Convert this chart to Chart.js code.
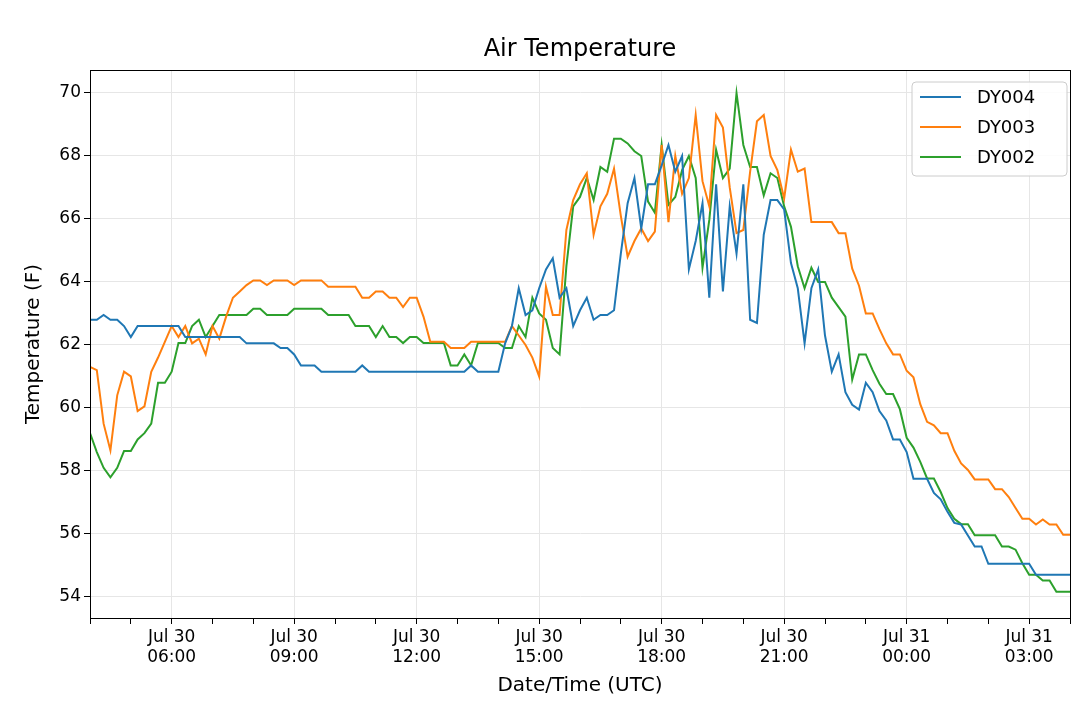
<!DOCTYPE html>
<html>
<head>
<meta charset="utf-8">
<script src="https://cdn.jsdelivr.net/npm/chart.js@4"></script>
<style>
  html, body { margin: 0; padding: 0; background: #fff; }
  #wrap { width: 1080px; height: 716px; }
</style>
</head>
<body>
<div id="wrap"><canvas id="c"></canvas></div>
<script>
// hours since Jul 30 00:00, one reading every 10 minutes from 04:00
const startHour = 4;
const stepHour = 1 / 6;
const seriesNames = ["DY004", "DY003", "DY002"];
const seriesColors = ["#1f77b4", "#ff7f0e", "#2ca02c"];
const yTicks = [54, 56, 58, 60, 62, 64, 66, 68, 70];

const dy004 = [
  62.8,62.8,62.95,62.8,62.8,62.6, 62.25,62.6,62.6,62.6,62.6,62.6,
  62.6,62.6,62.25,62.25,62.25,62.25, 62.25,62.25,62.25,62.25,62.25,62.05,
  62.05,62.05,62.05,62.05,61.9,61.9, 61.7,61.35,61.35,61.35,61.15,61.15,
  61.15,61.15,61.15,61.15,61.35,61.15, 61.15,61.15,61.15,61.15,61.15,61.15,
  61.15,61.15,61.15,61.15,61.15,61.15, 61.15,61.15,61.35,61.15,61.15,61.15,
  61.15,62.05,62.6,63.8,62.95,63.1, 63.8,64.4,64.75,63.5,63.8,62.6,
  63.1,63.5,62.8,62.95,62.95,63.1, 64.9,66.5,67.3,65.7,67.1,67.1,
  67.7,68.35,67.5,68.0,64.4,65.3, 66.5,63.5,67.1,63.7,66.4,64.9,
  67.1,62.8,62.7,65.5,66.6,66.6, 66.3,64.6,63.8,62.05,63.8,64.4,
  62.3,61.15,61.7,60.5,60.1,59.95, 60.8,60.5,59.9,59.6,59.0,59.0,
  58.6,57.75,57.75,57.75,57.3,57.1, 56.7,56.35,56.3,55.95,55.6,55.6,
  55.05,55.05,55.05,55.05,55.05,55.05, 55.05,54.7,54.7,54.7,54.7,54.7,54.7
];
const dy003 = [
  61.3,61.2,59.5,58.65,60.4,61.15, 61.0,59.9,60.05,61.15,61.6,62.1,
  62.6,62.25,62.6,62.05,62.2,61.7, 62.6,62.2,62.9,63.5,63.7,63.9,
  64.05,64.05,63.9,64.05,64.05,64.05, 63.9,64.05,64.05,64.05,64.05,63.85,
  63.85,63.85,63.85,63.85,63.5,63.5, 63.7,63.7,63.5,63.5,63.2,63.5,
  63.5,62.9,62.1,62.1,62.1,61.9, 61.9,61.9,62.1,62.1,62.1,62.1,
  62.1,62.1,62.6,62.3,62.0,61.6, 61.0,63.85,62.95,62.95,65.65,66.6,
  67.1,67.45,65.5,66.4,66.8,67.6, 66.1,64.8,65.3,65.7,65.3,65.6,
  68.35,65.9,68.0,66.8,67.3,69.3, 67.2,66.4,69.3,68.9,67.0,65.55,
  65.65,67.5,69.1,69.3,68.0,67.55, 66.65,68.2,67.5,67.6,65.9,65.9,
  65.9,65.9,65.55,65.55,64.42,63.88, 63.0,63.0,62.5,62.05,61.7,61.7,
  61.18,60.97,60.12,59.56,59.45,59.2, 59.2,58.64,58.24,58.03,57.73,57.73,
  57.73,57.42,57.42,57.17,56.82,56.48, 56.48,56.3,56.46,56.3,56.3,55.97,55.97
];
const dy002 = [
  59.2,58.6,58.1,57.8,58.1,58.63, 58.63,59.0,59.2,59.5,60.8,60.8,
  61.15,62.06,62.06,62.6,62.8,62.25, 62.6,62.95,62.95,62.95,62.95,62.95,
  63.15,63.15,62.95,62.95,62.95,62.95, 63.15,63.15,63.15,63.15,63.15,62.95,
  62.95,62.95,62.95,62.6,62.6,62.6, 62.25,62.6,62.25,62.25,62.06,62.25,
  62.25,62.06,62.06,62.06,62.06,61.35, 61.35,61.7,61.35,62.06,62.06,62.06,
  62.06,61.9,61.9,62.6,62.25,63.5, 63.0,62.8,61.9,61.7,64.5,66.4,
  66.7,67.3,66.6,67.65,67.5,68.55, 68.55,68.4,68.15,68.0,66.55,66.2,
  68.35,66.45,66.7,67.55,68.0,67.3, 64.45,65.97,68.2,67.3,67.6,70.0,
  68.35,67.65,67.65,66.75,67.45,67.3, 66.4,65.75,64.5,63.8,64.45,64.0,
  64.0,63.5,63.2,62.9,60.9,61.7, 61.7,61.2,60.77,60.44,60.44,59.96,
  59.05,58.74,58.29,57.76,57.76,57.33, 56.82,56.48,56.31,56.31,55.96,55.96,
  55.96,55.96,55.6,55.6,55.5,55.07, 54.7,54.7,54.52,54.52,54.16,54.16,54.16
];

function toPoints(vals) {
  return vals.map((v, i) => ({ x: startHour + i * stepHour, y: v }));
}

function hourLabel(h) {
  let day = h < 24 ? "Jul 30" : "Jul 31";
  let hh = String(h % 24).padStart(2, "0");
  return [day, hh + ":00"];
}

const frame = {
  id: "frame",
  afterDraw(chart) {
    let ctx = chart.ctx, a = chart.chartArea;
    ctx.save();
    ctx.strokeStyle = "#000";
    ctx.lineWidth = 1;
    ctx.strokeRect(a.left + 0.5, a.top + 0.5, a.right - a.left, a.bottom - a.top);

    ctx.fillStyle = "#000";
    ctx.font = "24px 'DejaVu Sans'";
    ctx.textAlign = "center";
    ctx.textBaseline = "middle";
    ctx.fillText("Air Temperature", (a.left + a.right) / 2, 50);

    // legend box
    let bx = 912, by = 82, bw = 155, bh = 94;
    ctx.fillStyle = "rgba(255,255,255,0.85)";
    ctx.strokeStyle = "#cccccc";
    ctx.beginPath();
    ctx.roundRect(bx, by, bw, bh, 4);
    ctx.fill();
    ctx.stroke();
    ctx.font = "18px 'DejaVu Sans'";
    ctx.textAlign = "left";
    seriesNames.forEach((name, i) => {
      let y = 97 + i * 30;
      ctx.strokeStyle = seriesColors[i];
      ctx.lineWidth = 2;
      ctx.beginPath();
      ctx.moveTo(920, y);
      ctx.lineTo(961, y);
      ctx.stroke();
      ctx.fillStyle = "#000";
      ctx.fillText(name, 977, y + 1);
    });
    ctx.restore();
  }
};

new Chart(document.getElementById("c"), {
  type: "line",
  data: {
    datasets: [dy004, dy003, dy002].map((vals, i) => ({
      label: seriesNames[i],
      data: toPoints(vals),
      borderColor: seriesColors[i],
      borderWidth: 2,
      pointRadius: 0,
      tension: 0
    }))
  },
  options: {
    responsive: true,
    maintainAspectRatio: false,
    animation: false,
    layout: { padding: { top: 70, right: 10, bottom: 14, left: 18 } },
    plugins: { legend: { display: false }, title: { display: false }, tooltip: { enabled: false } },
    scales: {
      x: {
        type: "linear",
        min: 4,
        max: 28,
        afterFit: s => { s.height = 84; },
        ticks: {
          stepSize: 1,
          autoSkip: false,
          maxRotation: 0,
          color: "#000",
          font: { size: 17, family: "'DejaVu Sans'" },
          callback: v => (v % 3 === 0 ? hourLabel(v) : "")
        },
        grid: {
          color: c => (c.tick && c.tick.value % 3 === 0 ? "#e6e6e6" : "transparent"),
          tickColor: "#000",
          tickLength: 6
        },
        border: { color: "#000" },
        title: { display: true, text: "Date/Time (UTC)", color: "#000", font: { size: 20, family: "'DejaVu Sans'" }, padding: { top: 2 } }
      },
      y: {
        min: 53.33,
        max: 70.73,
        afterFit: s => { s.width = 72; },
        afterBuildTicks: s => { s.ticks = yTicks.map(v => ({ value: v })); },
        ticks: { color: "#000", font: { size: 17, family: "'DejaVu Sans'" } },
        grid: { color: "#e6e6e6", tickColor: "#000", tickLength: 6 },
        border: { color: "#000" },
        title: { display: true, text: "Temperature (F)", color: "#000", font: { size: 20, family: "'DejaVu Sans'" } }
      }
    }
  },
  plugins: [frame]
});
</script>
</body>
</html>
